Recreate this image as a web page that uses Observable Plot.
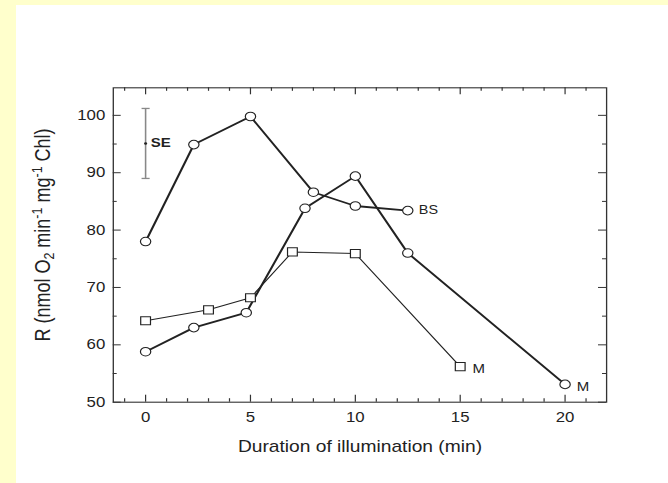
<!DOCTYPE html>
<html><head><meta charset="utf-8">
<script src="https://cdn.jsdelivr.net/npm/d3@7"></script>
<script src="https://cdn.jsdelivr.net/npm/@observablehq/plot@0.6"></script>
<style>
html,body{margin:0;padding:0;background:#ffffcc;overflow:hidden;}
#wrap{position:absolute;left:16px;top:5px;width:652px;height:478px;background:#fff;}
#chart{position:absolute;left:0;top:0;}
</style></head><body>
<div id="wrap"></div><div id="chart"></div>
<script>
// BS series (open circles, thick line)
const bsX = [0, 2.3, 5, 8, 10, 12.5];
const bsY = [78, 94.9, 99.8, 86.6, 84.2, 83.4];
// M series, circles (thick line)
const mcX = [0, 2.3, 4.8, 7.6, 10, 12.5, 20];
const mcY = [58.8, 63.0, 65.6, 83.8, 89.4, 76, 53.1];
// M series, squares (thin line)
const msX = [0, 3, 5, 7, 10, 15];
const msY = [64.2, 66.1, 68.2, 76.2, 75.9, 56.2];
// SE bar
const seX = [0];
const seMean = [95.1];
const seLo = [89.0];
const seHi = [101.2];
// ticks
const xMajor = [0, 5, 10, 15, 20];
const xMinor = [-1, 1, 2, 3, 4, 6, 7, 8, 9, 11, 12, 13, 14, 16, 17, 18, 19, 21];
const yMajor = [50, 60, 70, 80, 90, 100];
const yMinor = [55, 65, 75, 85, 95];
const xTitle = "Duration of illumination (min)";

const bs = bsX.map((x, i) => ({x, y: bsY[i]}));
const mc = mcX.map((x, i) => ({x, y: mcY[i]}));
const ms = msX.map((x, i) => ({x, y: msY[i]}));
const se = seX.map((x, i) => ({x, mean: seMean[i], lo: seLo[i], hi: seHi[i]}));

const S = 1.2, W = 668, H = 483;
const W0 = W / S;
const ML = 112.7 / S, MR = 62 / S, MT = 87.3, MB = 81.3;
const PH = H - MT - MB, PW = W0 - ML - MR;
const ink = "#222";
const capSym = {draw(ctx, size) { const w = Math.sqrt(size) ; ctx.moveTo(-w, 0); ctx.lineTo(w, 0); }};

const plot = Plot.plot({
  width: W0, height: H,
  marginLeft: ML, marginRight: MR, marginTop: MT, marginBottom: MB,
  x: {domain: [-1.54, 21.98]},
  y: {domain: [50, 104.8]},
  style: {background: "transparent", fontFamily: "'Liberation Sans', Arial, sans-serif", color: "#222"},
  marks: [
    Plot.frame({stroke: "#333", strokeWidth: 1.1}),
    Plot.ruleX(xMajor, {x: d => d, insetTop: PH - 7, stroke: "#333"}),
    Plot.ruleX(xMinor, {x: d => d, insetTop: PH - 3.5, stroke: "#333"}),
    Plot.ruleX(xMajor, {x: d => d, insetBottom: PH - 7, stroke: "#333"}),
    Plot.ruleX(xMinor, {x: d => d, insetBottom: PH - 3.5, stroke: "#333"}),
    Plot.ruleY(yMajor, {y: d => d, insetRight: PW - 8 / S, stroke: "#333"}),
    Plot.ruleY(yMinor, {y: d => d, insetRight: PW - 4 / S, stroke: "#333"}),
    Plot.ruleY(yMajor, {y: d => d, insetLeft: PW - 8 / S, stroke: "#333"}),
    Plot.ruleY(yMinor, {y: d => d, insetLeft: PW - 4 / S, stroke: "#333"}),
    Plot.axisX(xMajor, {tickSize: 0, tickPadding: 10, fontSize: 14, label: null}),
    Plot.axisY(yMajor, {tickSize: 0, tickPadding: 8 / S, fontSize: 14, label: null}),
    Plot.text([xTitle], {text: d => d, frameAnchor: "bottom", dy: 45, fontSize: 16, lineAnchor: "middle", fill: ink}),
    // SE bar
    Plot.ruleX(se, {x: "x", y1: "lo", y2: "hi", stroke: "#888", strokeWidth: 1.3}),
    Plot.dot(se, {x: "x", y: "lo", symbol: capSym, r: 1.9, stroke: "#888", strokeWidth: 1.3}),
    Plot.dot(se, {x: "x", y: "hi", symbol: capSym, r: 1.9, stroke: "#888", strokeWidth: 1.3}),
    Plot.dot(se, {x: "x", y: "mean", r: 1.3, fill: ink, stroke: null}),
    Plot.text(se, {x: "x", y: "mean", text: () => "SE", dx: 4.2, textAnchor: "start", fontSize: 12.5, fontWeight: "bold", fill: ink}),
    // series
    Plot.line(ms, {x: "x", y: "y", stroke: ink, strokeWidth: 1}),
    Plot.line(bs, {x: "x", y: "y", stroke: ink, strokeWidth: 1.8}),
    Plot.line(mc, {x: "x", y: "y", stroke: ink, strokeWidth: 1.8}),
    Plot.dot(ms, {x: "x", y: "y", symbol: "square", r: 4.6, fill: "white", stroke: ink, strokeWidth: 1}),
    Plot.dot(bs, {x: "x", y: "y", symbol: "circle", r: 4.3, fill: "white", stroke: ink, strokeWidth: 1}),
    Plot.dot(mc, {x: "x", y: "y", symbol: "circle", r: 4.3, fill: "white", stroke: ink, strokeWidth: 1}),
    // series labels
    Plot.text(bs.slice(-1), {x: "x", y: "y", text: () => "BS", dx: 9.2, textAnchor: "start", fontSize: 12, fill: ink}),
    Plot.text(ms.slice(-1), {x: "x", y: "y", text: () => "M", dx: 10.3, dy: 2.5, textAnchor: "start", fontSize: 12.5, fill: ink}),
    Plot.text(mc.slice(-1), {x: "x", y: "y", text: () => "M", dx: 9.8, dy: 3, textAnchor: "start", fontSize: 12.5, fill: ink})
  ]
});

// y-axis title with sub/superscripts
const t = d3.select(plot).append("text")
  .attr("transform", `translate(${49.5 / S},235) rotate(-90)`)
  .attr("text-anchor", "middle")
  .attr("font-size", 18)
  .attr("fill", ink)
  .attr("font-family", "'Liberation Sans', Arial, sans-serif");
t.append("tspan").text("R (nmol O");
t.append("tspan").attr("font-size", 12.5).attr("dy", 4).text("2");
t.append("tspan").attr("dy", -4).text(" min");
t.append("tspan").attr("font-size", 12.5).attr("dy", -6.5).text("-1");
t.append("tspan").attr("dy", 6.5).text(" mg");
t.append("tspan").attr("font-size", 12.5).attr("dy", -6.5).text("-1");
t.append("tspan").attr("dy", 6.5).text(" Chl)");

plot.setAttribute("width", W);
plot.setAttribute("height", H);
plot.setAttribute("preserveAspectRatio", "none");
plot.style.width = W + "px";
plot.style.height = H + "px";
plot.style.maxWidth = "none";
document.getElementById("chart").appendChild(plot);
</script>
</body></html>
